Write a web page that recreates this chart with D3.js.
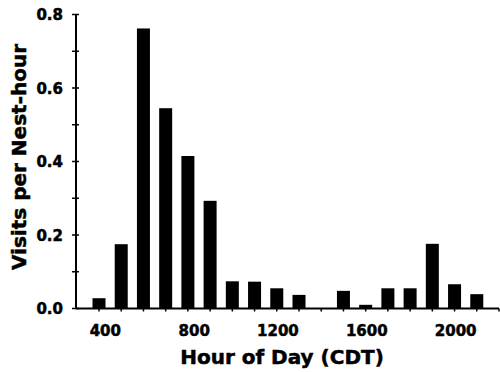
<!DOCTYPE html>
<html>
<head>
<meta charset="utf-8">
<script src="https://cdn.jsdelivr.net/npm/d3@7"></script>
<style>
  body { margin: 0; background: #fff; }
  svg text { font-family: "DejaVu Sans", sans-serif; font-weight: bold; fill: #000; stroke: #000; stroke-width: 0.5px; }
</style>
</head>
<body>
<div id="chart"></div>
<script>
// visits per nest-hour, one bar per hour of day (1400 has none)
const hours = [400, 500, 600, 700, 800, 900, 1000, 1100, 1200, 1300, 1500, 1600, 1700, 1800, 1900, 2000, 2100];
const visits = [0.028, 0.175, 0.762, 0.545, 0.415, 0.293, 0.074, 0.073, 0.055, 0.037, 0.048, 0.010, 0.055, 0.055, 0.176, 0.066, 0.039];
const xTickLabels = [400, 800, 1200, 1600, 2000];
const yTickLabels = [0, 0.2, 0.4, 0.6, 0.8];
const yMinorTicks = [0.1, 0.3, 0.5, 0.7];
const xMinorTicks = d3.range(400, 2201, 100);

const width = 500;
const height = 372;

const svg = d3.select('#chart').append('svg')
  .attr('width', width)
  .attr('height', height);

const x = d3.scaleLinear().domain([400, 2200]).range([99, 499]);
const y = d3.scaleLinear().domain([0, 0.8]).range([308.5, 14.5]);
const axisX = 76;

// bars
svg.selectAll('.bar').data(hours).enter().append('rect')
  .attr('class', 'bar')
  .attr('x', (d) => x(d) - 6.5)
  .attr('y', (d, i) => y(visits[i]))
  .attr('width', 13)
  .attr('height', (d, i) => y(0) - y(visits[i]))
  .attr('fill', '#000');

// x axis
svg.append('line')
  .attr('x1', axisX).attr('x2', 499)
  .attr('y1', y(0)).attr('y2', y(0))
  .attr('stroke', '#000').attr('stroke-width', 2);
svg.selectAll('.xtick').data(xMinorTicks).enter().append('line')
  .attr('x1', (d) => x(d)).attr('x2', (d) => x(d))
  .attr('y1', y(0)).attr('y2', y(0) + 3)
  .attr('stroke', '#000').attr('stroke-width', 1.5);
// labels are set as 4-digit columns, so 3-digit ones sit right of the tick
svg.selectAll('.xlabel').data(xTickLabels).enter().append('text')
  .attr('x', (d) => x(d) + 22)
  .attr('y', 336)
  .attr('text-anchor', 'end')
  .style('font-size', '15px')
  .text((d) => d);

// y axis
svg.append('line')
  .attr('x1', axisX).attr('x2', axisX)
  .attr('y1', y(0)).attr('y2', y(0.8))
  .attr('stroke', '#000').attr('stroke-width', 2);
svg.selectAll('.ytick').data(yTickLabels.concat(yMinorTicks)).enter().append('line')
  .attr('x1', axisX - 4).attr('x2', axisX + 3)
  .attr('y1', (d) => y(d)).attr('y2', (d) => y(d))
  .attr('stroke', '#000').attr('stroke-width', 1.5);
svg.selectAll('.ylabel').data(yTickLabels).enter().append('text')
  .attr('x', 63)
  .attr('y', (d) => y(d) + 5.5)
  .attr('text-anchor', 'end')
  .style('font-size', '15px')
  .text((d) => d.toFixed(1));

// titles
svg.append('text')
  .attr('x', 282)
  .attr('y', 364)
  .attr('text-anchor', 'middle')
  .style('font-size', '20px')
  .text('Hour of Day (CDT)');
svg.append('text')
  .attr('transform', 'translate(26,157) rotate(-90)')
  .attr('text-anchor', 'middle')
  .style('font-size', '20px')
  .text('Visits per Nest-hour');
</script>
</body>
</html>
